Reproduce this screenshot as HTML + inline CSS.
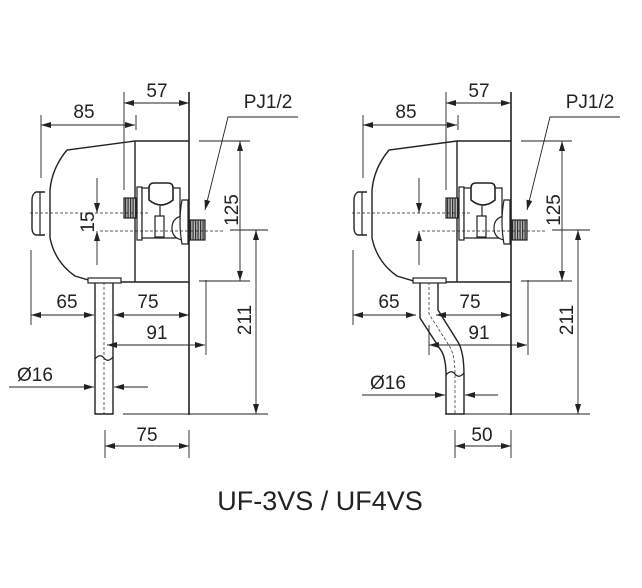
<!DOCTYPE html>
<html><head><meta charset="utf-8"><style>
html,body{margin:0;padding:0;background:#fff;}
svg{display:block}
text{font-family:"Liberation Sans",Arial,sans-serif;fill:#222}
</style></head><body>
<svg width="642" height="588" viewBox="0 0 642 588" xmlns="http://www.w3.org/2000/svg">
<defs>
<marker id="a" viewBox="0 0 10 6" refX="10" refY="3" markerWidth="10" markerHeight="6" orient="auto-start-reverse" markerUnits="userSpaceOnUse"><path d="M0,0 L10,3 L0,6 Z" fill="#222"/></marker>
<pattern id="h" width="2.5" height="4" patternUnits="userSpaceOnUse"><rect width="2.5" height="4" fill="#bbb"/><rect width="1.2" height="4" fill="#333"/></pattern>
<g id="common" stroke="#222" fill="none" stroke-width="1.2">
  <line x1="189" y1="92" x2="189" y2="415" stroke-width="1.6"/>
  <path d="M135,141 L189,141 M135,141 L135,282 L189,282 M135,141 L67,150 Q52,168 50,190 L50,238 Q55,262 75,276 L95,282 L135,282" stroke-width="1.4"/>
  <path d="M45,192 L36,192 Q32,194 32,200 L32,228 Q32,234 36,235 L45,235" stroke-width="1.4"/>
  <line x1="40" y1="192" x2="40" y2="235"/>
  <rect x="124" y="198" width="12" height="20" fill="url(#h)"/>
  <rect x="137" y="187" width="5" height="53" fill="#fff"/>
  <path d="M142,188 L180,188 L180,238 L142,238 Z" fill="#fff"/>
  <path d="M149,200 L149,188 Q149,183 154,183 L168,183 Q173,183 173,188 L173,200 Q161,210 149,200 Z" fill="#fff" stroke-width="1.6"/>
  <line x1="160" y1="206" x2="160" y2="216"/>
  <rect x="155" y="216" width="9" height="21" fill="#fff"/>
  <path d="M182,216 Q172,218 172,228 Q172,238 182,240" fill="#fff"/>
  <path d="M182,200 L188,200 L188,244 L182,244 Q178,222 182,200 Z" fill="#fff"/>
  <rect x="190" y="220" width="15" height="20" fill="url(#h)"/>
  <line x1="30" y1="213" x2="150" y2="213" stroke-dasharray="3,2" stroke-width="0.7"/>
  <line x1="100" y1="231" x2="225" y2="231" stroke-dasharray="3,2" stroke-width="0.7"/>
  <line x1="41" y1="115" x2="41" y2="178" stroke-width="0.9"/>
  <line x1="136" y1="115" x2="136" y2="130" stroke-width="0.9"/>
  <line x1="124" y1="92" x2="124" y2="190" stroke-width="0.9"/>
  <line x1="41" y1="125" x2="135" y2="125" stroke-width="0.9" marker-start="url(#a)" marker-end="url(#a)"/>
  <line x1="124" y1="103" x2="189" y2="103" stroke-width="0.9" marker-start="url(#a)" marker-end="url(#a)"/>
  <polyline points="298,117 228,117 205,210" stroke-width="0.9" marker-end="url(#a)"/>
  <line x1="199" y1="141" x2="250" y2="141" stroke-width="0.9"/>
  <line x1="199" y1="281" x2="250" y2="281" stroke-width="0.9"/>
  <line x1="240" y1="141" x2="240" y2="281" stroke-width="0.9" marker-start="url(#a)" marker-end="url(#a)"/>
  <line x1="97" y1="178" x2="97" y2="213" stroke-width="0.9" marker-end="url(#a)"/>
  <line x1="97" y1="265" x2="97" y2="231" stroke-width="0.9" marker-end="url(#a)"/>
  <line x1="230" y1="230" x2="268" y2="230" stroke-width="0.9"/>
  <line x1="256" y1="230" x2="256" y2="414" stroke-width="0.9" marker-start="url(#a)" marker-end="url(#a)"/>
  <line x1="123" y1="414" x2="268" y2="414" stroke-width="0.9"/>
  <line x1="31" y1="250" x2="31" y2="325" stroke-width="0.9"/>
  <line x1="31" y1="315" x2="94" y2="315" stroke-width="0.9" marker-start="url(#a)" marker-end="url(#a)"/>
  <line x1="114" y1="315" x2="189" y2="315" stroke-width="0.9" marker-start="url(#a)" marker-end="url(#a)"/>
  <line x1="206" y1="280" x2="206" y2="355" stroke-width="0.9"/>
  <line x1="189" y1="345" x2="205" y2="345" stroke-width="0.9" marker-end="url(#a)"/>
</g>
</defs>

<use href="#common"/>
<g stroke="#222" fill="none" stroke-width="1.2">
  <path d="M95,282 L95,414 L113,414 L113,282" stroke-width="1.4"/>
  <line x1="104" y1="282" x2="104" y2="414" stroke-dasharray="3,2" stroke-width="0.7"/>
  <path d="M95,359 Q100,353 104,358 Q108,363 113,357"/>
  <rect x="88" y="278" width="33" height="5" fill="#fff"/>
  <line x1="107" y1="345" x2="189" y2="345" stroke-width="0.9" marker-start="url(#a)"/>
  <line x1="9" y1="387" x2="94" y2="387" stroke-width="0.9" marker-end="url(#a)"/>
  <line x1="148" y1="387" x2="114" y2="387" stroke-width="0.9" marker-end="url(#a)"/>
  <line x1="105" y1="430" x2="105" y2="458" stroke-width="0.9"/>
  <line x1="189" y1="430" x2="189" y2="458" stroke-width="0.9"/>
  <line x1="105" y1="446" x2="189" y2="446" stroke-width="0.9" marker-start="url(#a)" marker-end="url(#a)"/>
</g>
<g font-size="19">
  <text x="84" y="118" text-anchor="middle">85</text>
  <text x="157" y="97" text-anchor="middle">57</text>
  <text x="268" y="108" text-anchor="middle">PJ1/2</text>
  <text x="67" y="308" text-anchor="middle">65</text>
  <text x="148" y="308" text-anchor="middle">75</text>
  <text x="157" y="339" text-anchor="middle">91</text>
  <text x="35" y="381" text-anchor="middle">Ø16</text>
  <text x="147" y="441" text-anchor="middle">75</text>
  <text transform="translate(238,210) rotate(-90)" text-anchor="middle">125</text>
  <text transform="translate(251,320) rotate(-90)" text-anchor="middle">211</text>
  <text transform="translate(94,222) rotate(-90)" text-anchor="middle">15</text>
</g>

<g transform="translate(322,0)">
<use href="#common"/>
<g stroke="#222" fill="none" stroke-width="1.2">
  <path d="M98,282 L98,318 L120,352 Q124,360 124,375 L124,414 L142,414 L142,375 Q142,352 136,342 L116,310 L116,282" stroke-width="1.4"/>
  <path d="M107,282 L107,314 L128,347 Q133,356 133,375 L133,414" stroke-dasharray="3,2" stroke-width="0.7"/>
  <path d="M124,375 Q129,369 133,374 Q137,379 142,373"/>
  <rect x="91" y="278" width="33" height="5" fill="#fff"/>
  <line x1="107" y1="325" x2="107" y2="355" stroke-width="0.9"/>
  <line x1="107" y1="345" x2="189" y2="345" stroke-width="0.9" marker-start="url(#a)"/>
  <line x1="40" y1="395" x2="123" y2="395" stroke-width="0.9" marker-end="url(#a)"/>
  <line x1="176" y1="395" x2="143" y2="395" stroke-width="0.9" marker-end="url(#a)"/>
  <line x1="133" y1="430" x2="133" y2="458" stroke-width="0.9"/>
  <line x1="189" y1="430" x2="189" y2="458" stroke-width="0.9"/>
  <line x1="133" y1="446" x2="189" y2="446" stroke-width="0.9" marker-start="url(#a)" marker-end="url(#a)"/>
</g>
<g font-size="19">
  <text x="84" y="118" text-anchor="middle">85</text>
  <text x="157" y="97" text-anchor="middle">57</text>
  <text x="268" y="108" text-anchor="middle">PJ1/2</text>
  <text x="67" y="308" text-anchor="middle">65</text>
  <text x="148" y="308" text-anchor="middle">75</text>
  <text x="157" y="339" text-anchor="middle">91</text>
  <text x="66" y="389" text-anchor="middle">Ø16</text>
  <text x="160" y="441" text-anchor="middle">50</text>
  <text transform="translate(238,210) rotate(-90)" text-anchor="middle">125</text>
  <text transform="translate(251,320) rotate(-90)" text-anchor="middle">211</text>
</g>
</g>

<text x="320" y="510" font-size="27" text-anchor="middle">UF-3VS / UF4VS</text>
</svg>
</body></html>
